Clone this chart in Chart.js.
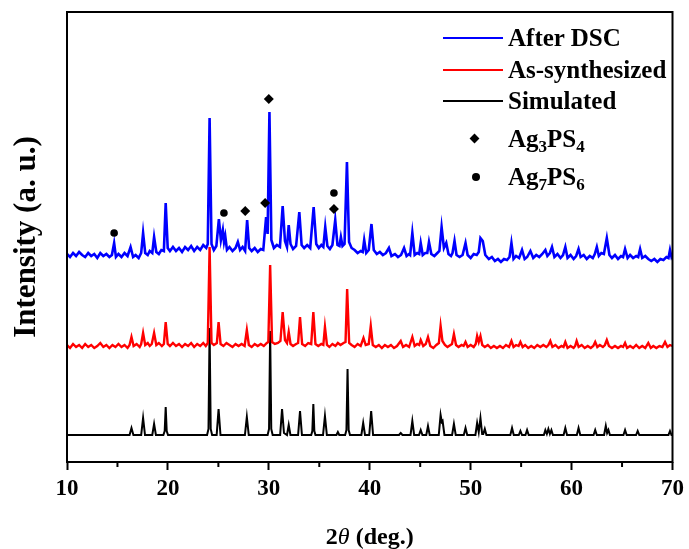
<!DOCTYPE html>
<html>
<head>
<meta charset="utf-8">
<script src="https://cdn.jsdelivr.net/npm/chart.js"></script>
<style>
  html, body { margin: 0; padding: 0; background: #fff; }
  #wrap { position: relative; width: 689px; height: 549px; }
  #legend { position: absolute; left: 443px; top: 0; font: bold 25px 'Liberation Serif', 'Times New Roman', serif; color: #000; }
  .row { position: absolute; left: 0; display: flex; align-items: center; white-space: nowrap; transform: translateY(-50%); }
  .swatch { width: 60px; height: 12px; position: relative; margin-right: 5px; }
  .swatch .ln { position: absolute; left: 0; right: 0; top: 5px; height: 2px; }
  .swatch .dia { position: absolute; left: 28px; top: 2px; width: 7px; height: 7px; background: #000; transform: rotate(45deg); }
  .swatch .dot { position: absolute; left: 29px; top: 2px; width: 8px; height: 8px; border-radius: 50%; background: #000; }
  sub { font-size: 17px; vertical-align: -5px; line-height: 0; }
</style>
</head>
<body>
<div id="wrap">
  <canvas id="xrd" width="689" height="549"></canvas>
  <div id="legend"></div>
</div>
<script>
// XRD patterns, stacked (2theta, intensity a.u.)
var xTicks = [10, 20, 30, 40, 50, 60, 70];
var xMinorTicks = [15, 25, 35, 45, 55, 65];

var afterDSC = [
  [10.0,208],[10.3,205],[10.6,209],[10.9,206],[11.2,210],[11.5,207],[11.8,205],[12.1,209],[12.4,206],[12.7,208],
  [13.0,204],[13.3,209],[13.6,206],[13.9,208],[14.2,205],[14.45,207],[14.67,219],[14.85,205],[15.1,208],[15.4,205],
  [15.7,209],[16.0,206],[16.3,215],[16.55,205],[16.8,207],[17.1,204],[17.35,209],[17.54,229],[17.75,209],[18.0,207],
  [18.2,211],[18.45,209],[18.63,225],[18.85,210],[19.1,208],[19.35,212],[19.6,211],[19.78,259],[19.98,214],[20.2,211],
  [20.5,215],[20.8,211],[21.1,214],[21.4,210],[21.7,215],[22.0,212],[22.3,216],[22.6,211],[22.9,215],[23.2,212],
  [23.5,217],[23.8,214],[23.95,218],[24.13,344],[24.32,218],[24.55,212],[24.8,216],[25.05,243],[25.25,222],[25.44,232],
  [25.56,220],[25.68,226],[25.85,212],[26.1,215],[26.4,211],[26.7,214],[26.93,220],[27.15,212],[27.4,215],[27.65,211],
  [27.85,242],[28.05,214],[28.3,211],[28.6,214],[28.9,210],[29.2,213],[29.45,212],[29.73,245],[29.88,228],[30.06,350],
  [30.25,222],[30.5,214],[30.8,217],[31.1,215],[31.37,256],[31.6,221],[31.8,215],[31.97,237],[32.15,218],[32.4,213],
  [32.7,216],[33.02,250],[33.25,217],[33.5,214],[33.8,217],[34.1,214],[34.44,255],[34.7,218],[34.95,214],[35.2,217],
  [35.4,215],[35.59,235],[35.8,216],[36.05,213],[36.3,217],[36.58,242],[36.8,217],[37.0,216],[37.14,225],[37.3,216],
  [37.5,218],[37.74,300],[37.95,220],[38.2,214],[38.5,212],[38.8,209],[39.1,211],[39.3,210],[39.45,222],[39.65,209],
  [39.9,212],[40.17,238],[40.4,212],[40.7,208],[41.0,210],[41.3,207],[41.6,209],[41.9,214],[42.15,206],[42.5,208],
  [42.8,205],[43.1,207],[43.4,214],[43.65,206],[43.9,208],[44.0,207],[44.22,229],[44.45,207],[44.7,209],[44.9,208],
  [45.05,219],[45.25,207],[45.5,209],[45.7,209],[45.87,220],[46.1,208],[46.4,206],[46.7,209],[46.9,211],[47.12,235],
  [47.35,214],[47.58,219],[47.8,208],[48.05,206],[48.2,209],[48.4,221],[48.6,207],[48.9,205],[49.2,207],[49.49,219],
  [49.7,207],[50.0,204],[50.3,208],[50.6,207],[50.8,210],[50.97,224],[51.2,221],[51.45,207],[51.8,203],[52.1,205],
  [52.4,201],[52.7,203],[53.0,200],[53.3,203],[53.6,202],[53.85,205],[54.04,219],[54.25,203],[54.5,206],[54.8,204],
  [55.09,212],[55.35,203],[55.6,205],[55.92,211],[56.2,204],[56.5,207],[56.8,205],[57.1,208],[57.4,212],[57.6,206],
  [57.85,209],[58.06,215],[58.3,205],[58.6,208],[58.9,204],[59.15,207],[59.38,215],[59.6,204],[59.9,207],[60.2,203],
  [60.45,206],[60.69,213],[60.9,205],[61.2,207],[61.5,203],[61.8,206],[62.1,204],[62.3,208],[62.5,215],[62.7,206],
  [62.95,209],[63.2,208],[63.49,224],[63.75,207],[64.0,204],[64.3,207],[64.6,203],[64.9,206],[65.1,205],[65.3,213],
  [65.55,204],[65.8,207],[66.1,204],[66.4,206],[66.6,205],[66.79,213],[67.0,204],[67.3,206],[67.6,203],[67.9,201],
  [68.2,203],[68.5,200],[68.8,203],[69.1,202],[69.4,205],[69.6,204],[69.75,212],[69.9,205],[70.0,207]
];

var asSynthesized = [
  [10.0,117],[10.3,114],[10.6,118],[10.9,115],[11.2,117],[11.5,114],[11.8,118],[12.1,115],[12.4,117],[12.7,114],
  [13.0,116],[13.3,119],[13.6,115],[13.9,117],[14.2,114],[14.5,117],[14.8,115],[15.1,118],[15.4,115],[15.7,117],
  [16.0,114],[16.2,117],[16.39,125],[16.6,116],[16.9,118],[17.2,115],[17.35,118],[17.54,129],[17.75,117],[18.0,119],
  [18.2,116],[18.4,118],[18.63,129],[18.85,117],[19.1,119],[19.4,116],[19.6,118],[19.78,140],[19.98,118],[20.2,116],
  [20.5,119],[20.8,116],[21.1,118],[21.4,115],[21.7,118],[22.0,116],[22.3,119],[22.6,115],[22.9,118],[23.2,116],
  [23.5,119],[23.75,116],[23.95,119],[24.13,215],[24.32,119],[24.55,117],[24.85,119],[25.02,140],[25.22,118],[25.5,116],
  [25.8,119],[26.1,117],[26.4,115],[26.7,118],[27.0,116],[27.3,118],[27.6,116],[27.82,132],[28.02,117],[28.3,115],
  [28.6,118],[28.9,116],[29.2,118],[29.5,116],[29.8,119],[29.95,120],[30.13,197],[30.32,120],[30.6,118],[30.9,119],
  [31.15,121],[31.37,150],[31.6,122],[31.8,119],[31.97,130],[32.15,118],[32.4,116],[32.7,118],[32.9,119],[33.09,145],
  [33.3,118],[33.6,116],[33.9,119],[34.2,118],[34.41,150],[34.62,118],[34.9,116],[35.2,118],[35.4,117],[35.56,135],
  [35.76,117],[36.0,115],[36.3,118],[36.6,116],[36.84,119],[37.1,117],[37.4,119],[37.6,120],[37.76,173],[37.96,119],
  [38.2,117],[38.5,115],[38.8,118],[39.1,116],[39.38,124],[39.6,117],[39.9,118],[40.1,136],[40.3,117],[40.6,115],
  [40.9,117],[41.2,114],[41.5,117],[41.8,115],[42.1,117],[42.4,114],[42.7,116],[43.07,121],[43.3,115],[43.6,117],
  [43.9,115],[44.22,125],[44.45,116],[44.7,118],[44.9,117],[45.05,122],[45.3,116],[45.55,118],[45.77,125],[46.0,116],
  [46.3,114],[46.6,117],[46.85,119],[47.02,136],[47.2,121],[47.45,117],[47.7,115],[48.0,117],[48.15,118],[48.34,128],
  [48.55,117],[48.8,115],[49.1,117],[49.3,116],[49.49,120],[49.7,115],[50.0,117],[50.3,115],[50.5,118],[50.64,126],
  [50.8,120],[50.97,126],[51.15,117],[51.4,115],[51.7,117],[52.0,114],[52.3,116],[52.6,114],[52.9,116],[53.2,114],
  [53.5,117],[53.8,115],[54.04,121],[54.25,115],[54.5,117],[54.75,116],[54.93,120],[55.15,115],[55.4,117],[55.7,114],
  [56.0,116],[56.3,114],[56.6,117],[56.9,115],[57.2,117],[57.5,115],[57.7,117],[57.89,121],[58.1,115],[58.4,117],
  [58.7,114],[59.0,116],[59.2,115],[59.38,120],[59.6,114],[59.9,116],[60.2,114],[60.35,116],[60.5,121],[60.7,115],
  [61.0,117],[61.3,114],[61.6,116],[61.9,114],[62.15,116],[62.34,120],[62.55,115],[62.8,117],[63.1,115],[63.3,117],
  [63.49,122],[63.7,116],[64.0,114],[64.3,116],[64.6,114],[64.9,116],[65.1,115],[65.3,119],[65.5,114],[65.8,116],
  [66.1,114],[66.4,117],[66.7,114],[67.0,116],[67.3,114],[67.6,119],[67.85,114],[68.1,116],[68.4,114],[68.7,116],
  [69.0,115],[69.26,120],[69.5,115],[69.75,117],[70.0,116]
];

var simulated = [
  [10,27],[16.2,27],[16.39,34],[16.58,27],[17.35,27],[17.54,44],[17.73,27],[18.45,27],[18.63,38],[18.81,27],
  [19.55,27],[19.68,31],[19.78,55],[19.88,31],[20.01,27],[23.88,27],[24.02,33],[24.13,134],[24.24,33],[24.38,27],
  [24.83,27],[25.02,53],[25.21,27],[27.63,27],[27.82,45],[28.01,27],[29.88,27],[30.02,33],[30.13,131],[30.24,33],
  [30.38,27],[31.12,27],[31.31,53],[31.5,29],[31.8,27],[31.97,37],[32.14,27],[32.9,27],[33.09,51],[33.28,27],
  [34.2,27],[34.31,31],[34.41,58],[34.51,31],[34.62,27],[35.37,27],[35.56,46],[35.75,27],[36.7,27],[36.84,30],
  [36.98,27],[37.56,27],[37.69,32],[37.8,93],[37.91,32],[38.04,27],[39.17,27],[39.35,39],[39.53,27],[39.95,27],
  [40.14,51],[40.33,27],[42.9,27],[43.07,29],[43.24,27],[44.04,27],[44.22,41],[44.4,27],[44.88,27],[45.05,32],
  [45.22,27],[45.6,27],[45.77,36],[45.94,27],[46.84,27],[47.02,47],[47.14,40],[47.22,41],[47.4,27],[48.16,27],
  [48.34,38],[48.52,27],[49.32,27],[49.49,34],[49.66,27],[50.47,27],[50.64,39],[50.8,30],[50.97,44],[51.14,28],
  [51.25,28],[51.4,33],[51.56,27],[53.93,27],[54.1,34],[54.27,27],[54.77,27],[54.93,31],[55.09,27],[55.43,27],
  [55.59,32],[55.75,27],[57.25,27],[57.4,32],[57.55,28],[57.7,33],[57.85,28],[58.0,32],[58.15,27],[59.21,27],
  [59.38,34],[59.55,27],[60.52,27],[60.69,34],[60.86,27],[62.18,27],[62.34,32],[62.5,27],[63.22,27],[63.39,36],
  [63.52,29],[63.65,32],[63.8,27],[65.14,27],[65.3,32],[65.46,27],[66.39,27],[66.55,31],[66.71,27],[69.6,27],
  [69.75,31],[69.9,27],[70,27]
];

// phase markers
var ag3ps4Marks = [[27.66,251],[29.63,259],[30.0,363],[36.45,253]];
var ag7ps6Marks = [[14.67,229],[25.55,249],[36.45,269]];

var FONT = "'Liberation Serif', 'Times New Roman', serif";

function pts(arr) {
	return arr.map(function (p) { return { x: p[0], y: p[1] }; });
}

function lineSet(label, arr, color, width) {
	return {
		type: 'line', label: label, legendText: label, data: pts(arr),
		borderColor: color, backgroundColor: color, borderWidth: width,
		pointRadius: 0, tension: 0, fill: false, order: 1
	};
}

function markSet(label, html, arr, style, r) {
	return {
		type: 'scatter', label: label, legendText: html, data: pts(arr),
		showLine: false, pointStyle: style, pointRadius: r, pointHoverRadius: r,
		backgroundColor: '#000', borderColor: '#000', borderWidth: 0, order: 0
	};
}

var framePlugin = {
	id: 'frame',
	afterDraw: function (chart) {
		var ctx = chart.ctx, a = chart.chartArea, x = chart.scales.x;
		ctx.save();
		ctx.strokeStyle = '#000';
		ctx.lineWidth = 2;
		ctx.strokeRect(a.left, a.top, a.right - a.left, a.bottom - a.top);
		xMinorTicks.forEach(function (v) {
			var px = x.getPixelForValue(v);
			ctx.beginPath();
			ctx.moveTo(px, a.bottom);
			ctx.lineTo(px, a.bottom + 5);
			ctx.stroke();
		});
		// x title: 2θ (deg.) with italic theta
		var parts = [['2', 'bold 24px ' + FONT], ['\u03B8', 'italic 24px ' + FONT], [' (deg.)', 'bold 24px ' + FONT]];
		var total = 0;
		parts.forEach(function (p) { ctx.font = p[1]; total += ctx.measureText(p[0]).width; });
		var cx = (a.left + a.right) / 2 - total / 2;
		ctx.fillStyle = '#000';
		ctx.textBaseline = 'alphabetic';
		parts.forEach(function (p) {
			ctx.font = p[1];
			ctx.fillText(p[0], cx, 544);
			cx += ctx.measureText(p[0]).width;
		});
		ctx.restore();
	}
};

var chart = new Chart(document.getElementById('xrd'), {
	data: {
		datasets: [
			lineSet('After DSC', afterDSC, '#0000FF', 2.6),
			lineSet('As-synthesized', asSynthesized, '#FF0000', 2.4),
			lineSet('Simulated', simulated, '#000000', 2),
			markSet('Ag3PS4', 'Ag<sub>3</sub>PS<sub>4</sub>', ag3ps4Marks, 'rectRot', 5),
			markSet('Ag7PS6', 'Ag<sub>7</sub>PS<sub>6</sub>', ag7ps6Marks, 'circle', 3.8)
		]
	},
	options: {
		responsive: false,
		animation: false,
		devicePixelRatio: 1,
		layout: { padding: { top: 12, right: 15, left: 0, bottom: 0 } },
		plugins: { legend: { display: false }, tooltip: { enabled: false } },
		scales: {
			x: {
				type: 'linear', min: 10, max: 70,
				afterBuildTicks: function (s) { s.ticks = xTicks.map(function (v) { return { value: v }; }); },
				ticks: { font: { family: FONT, size: 23, weight: 'bold' }, color: '#000', padding: 5, maxRotation: 0, autoSkip: false },
				grid: { display: true, drawOnChartArea: false, drawTicks: true, tickLength: 8, tickWidth: 2, tickColor: '#000' },
				border: { display: false },
				afterFit: function (s) { s.height = 87; }
			},
			y: {
				type: 'linear', min: 0, max: 450,
				ticks: { display: false },
				grid: { display: false },
				border: { display: false },
				title: { display: true, text: 'Intensity (a. u.)', color: '#000', font: { family: FONT, size: 31, weight: 'bold' }, padding: { top: 8, bottom: 0 } },
				afterFit: function (s) { s.width = 67; }
			}
		}
	},
	plugins: [framePlugin]
});

// legend drawn as html over the plot
var rowCenters = [38, 70, 101, 139, 177];
var legend = document.getElementById('legend');
chart.data.datasets.forEach(function (ds, i) {
	var row = document.createElement('div');
	row.className = 'row';
	row.style.top = rowCenters[i] + 'px';
	var sw = '<div class="swatch">';
	if (ds.type === 'line') sw += '<div class="ln" style="background:' + ds.borderColor + '"></div>';
	else if (ds.pointStyle === 'rectRot') sw += '<div class="dia"></div>';
	else sw += '<div class="dot"></div>';
	sw += '</div>';
	row.innerHTML = sw + '<span>' + ds.legendText + '</span>';
	legend.appendChild(row);
});
</script>
</body>
</html>
